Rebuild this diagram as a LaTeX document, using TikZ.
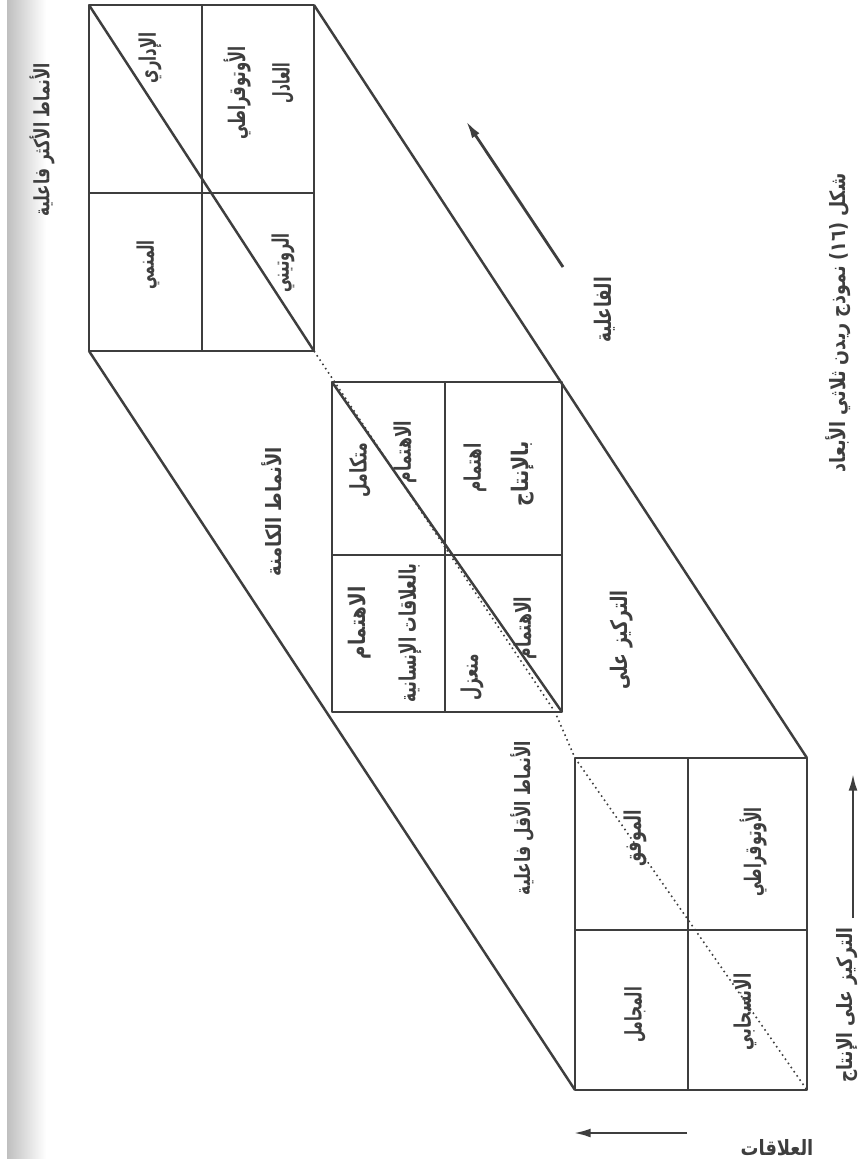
\documentclass[tikz,border=0pt]{standalone}
\usepackage{fontspec}
\newfontfamily\arabicfont[Script=Arabic]{DejaVu Sans}
\TeXXeTstate=1
\usetikzlibrary{arrows.meta}
% set a text squeezed to a given length (in picture units)
\newlength{\arwd}
\newcommand{\fitar}[2]{%
 \settowidth{\arwd}{#2}%
 \pgfmathsetmacro{\arfac}{#1*0.56693/\arwd}%
 \scalebox{\arfac}[1]{#2}}

\begin{document}
\begin{tikzpicture}[x=0.02cm,y=-0.02cm,>={Latex[length=10pt,width=5pt]},line join=round]
\definecolor{ink}{RGB}{62,62,62}
\tikzset{
 box/.style={draw=ink,line width=1.6pt},
 edge/.style={draw=ink,line width=1.4pt},
 hidden/.style={draw=ink,line width=0.9pt,dotted},
 lbl/.style={rotate=90,text=ink,inner sep=1pt,font=\arabicfont\bfseries\fontsize{13}{15}\selectfont},
 grp/.style={lbl,font=\arabicfont\bfseries\fontsize{12}{14}\selectfont},
 axis/.style={draw=ink,line width=1.6pt,->}
}
\useasboundingbox (0,0) rectangle (867,1159);
\clip (0,0) rectangle (867,1159);
\fill[white] (0,0) rectangle (867,1159);
% binding shadow on the left
\shade[left color=black!25,right color=white] (7,0) rectangle (46,1159);

% corners of the three sections
\coordinate (hiTL) at (89,5);
\coordinate (hiBR) at (314,351);
\coordinate (miTL) at (332,382);
\coordinate (miBR) at (562,712);
\coordinate (loTL) at (575,758);
\coordinate (loBR) at (807,1090);
\coordinate (bend) at (555,712);

% edges of the block
\draw[edge] (hiTL -| hiBR) -- (loTL -| loBR);
\draw[edge] (hiTL |- hiBR) -- (loTL |- loBR);
\draw[hidden] (hiBR) -- (bend) -- (loTL) -- (loBR);

% more effective
\draw[box] (hiTL) rectangle (hiBR);
\draw[box] (202,5) -- (202,351) (89,193) -- (314,193);
\draw[edge] (hiTL) -- (hiBR);
% basic
\draw[box] (miTL) rectangle (miBR);
\draw[box] (445,382) -- (445,712) (332,555) -- (562,555);
\draw[edge] (miTL) -- (miBR);
% less effective
\draw[box] (loTL) rectangle (loBR);
\draw[box] (688,758) -- (688,1090) (575,930) -- (807,930);

% cell texts
\node[lbl] (hiExec) at (150,58) {\fitar{51}{\beginR الإداري\endR}};
\node[lbl] (hiBenA) at (237,93) {\fitar{93}{\beginR الأوتوقراطي\endR}};
\node[lbl] (hiBenB) at (283,83) {\fitar{41}{\beginR العادل\endR}};
\node[lbl] (hiDev) at (148,265) {\fitar{50}{\beginR المنمي\endR}};
\node[lbl] (hiBur) at (283,263) {\fitar{60}{\beginR الروتيني\endR}};

\node[lbl] (miIntA) at (360,470) {\fitar{55}{\beginR متكامل\endR}};
\node[lbl] (miIntB) at (405,452) {\fitar{63}{\beginR الاهتمام\endR}};
\node[lbl] (miDedA) at (475,468) {\fitar{50}{\beginR اهتمام\endR}};
\node[lbl] (miDedB) at (523,474) {\fitar{65}{\beginR بالإنتاج\endR}};
\node[lbl] (miRelA) at (360,623) {\fitar{73}{\beginR الاهتمام\endR}};
\node[lbl] (miRelB) at (410,633) {\fitar{140}{\beginR بالعلاقات الإنسانية\endR}};
\node[lbl] (miSepA) at (472,677) {\fitar{47}{\beginR منعزل\endR}};
\node[lbl] (miSepB) at (525,628) {\fitar{63}{\beginR الاهتمام\endR}};

\node[lbl] (loComp) at (635,838) {\fitar{57}{\beginR الموفق\endR}};
\node[lbl] (loAuto) at (753,852) {\fitar{90}{\beginR الأوتوقراطي\endR}};
\node[lbl] (loMiss) at (635,1015) {\fitar{56}{\beginR المجامل\endR}};
\node[lbl] (loDes) at (745,1012) {\fitar{77}{\beginR الانسحابي\endR}};

% outside texts
\node[grp] (moreEff) at (42,140) {\fitar{154}{\beginR الأنماط الأكثر فاعلية\endR}};
\node[grp] (basic) at (272,512) {\fitar{130}{\beginR الأنماط الكامنة\endR}};
\node[grp] (lessEff) at (522,818) {\fitar{155}{\beginR الأنماط الأقل فاعلية\endR}};
\node[lbl] (focus) at (622,640) {\fitar{100}{\beginR التركيز على\endR}};
\node[lbl] (effLbl) at (605,310) {\fitar{66}{\beginR الفاعلية\endR}};
\node[grp] (caption) at (838,323) {\fitar{300}{\beginR شكل (١٦) نموذج ريدن ثلاثي الأبعاد\endR}};
\node[grp] (taskLbl) at (847,1005) {\fitar{156}{\beginR التركيز على الإنتاج\endR}};
\node[grp,rotate=-90,anchor=south] (relLbl) at (777,1158) {\fitar{73}{\beginR العلاقات\endR}};

% axes
\coordinate (effTail) at (563,267);
\coordinate (effHead) at (466,121);
\coordinate (taskTail) at (853,918);
\coordinate (taskHead) at (853,773);
\coordinate (relTail) at (687,1133);
\coordinate (relHead) at (573,1133);
\draw[axis] (effTail) -- (effHead);
\draw[axis] (taskTail) -- (taskHead);
\draw[axis] (relTail) -- (relHead);
\end{tikzpicture}
\end{document}
